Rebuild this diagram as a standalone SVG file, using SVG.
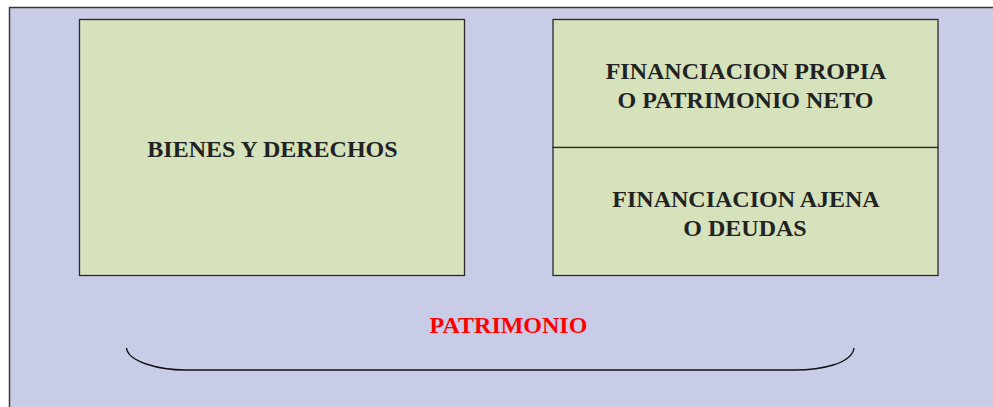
<svg xmlns="http://www.w3.org/2000/svg" width="993" height="407" viewBox="0 0 993 407">
<style>
.box{fill:#d6e2bc;stroke:#2a2a2a;stroke-width:1.3}
.t{font-family:"Liberation Serif","Times New Roman",serif;font-weight:bold;font-size:24px;fill:#222;text-anchor:middle}
.r{fill:#ff0000}
</style>
<rect x="9.5" y="7.5" width="1000" height="420" fill="#c8cce6" stroke="#3a3a3a" stroke-width="1.5"/>
<g id="bienes">
<rect class="box" x="79.5" y="19.5" width="385" height="256"/>
<text class="t" x="272.5" y="157">BIENES Y DERECHOS</text>
</g>
<g id="propia">
<rect class="box" x="553" y="19.5" width="385" height="128"/>
<text class="t" x="746" y="79">FINANCIACION PROPIA</text>
<text class="t" x="745.5" y="108">O PATRIMONIO NETO</text>
</g>
<g id="ajena">
<rect class="box" x="553" y="147.5" width="385" height="128"/>
<text class="t" x="746" y="207">FINANCIACION AJENA</text>
<text class="t" x="745" y="236">O DEUDAS</text>
</g>
<g id="patrimonio">
<text class="t r" x="508.5" y="333">PATRIMONIO</text>
</g>
<g id="connectors">
<path d="M126.5 348 C128 362 160 370 185 370 L795 370 C820 370 852 364 854 348" fill="none" stroke="#111" stroke-width="1.4"/>
</g>
</svg>
